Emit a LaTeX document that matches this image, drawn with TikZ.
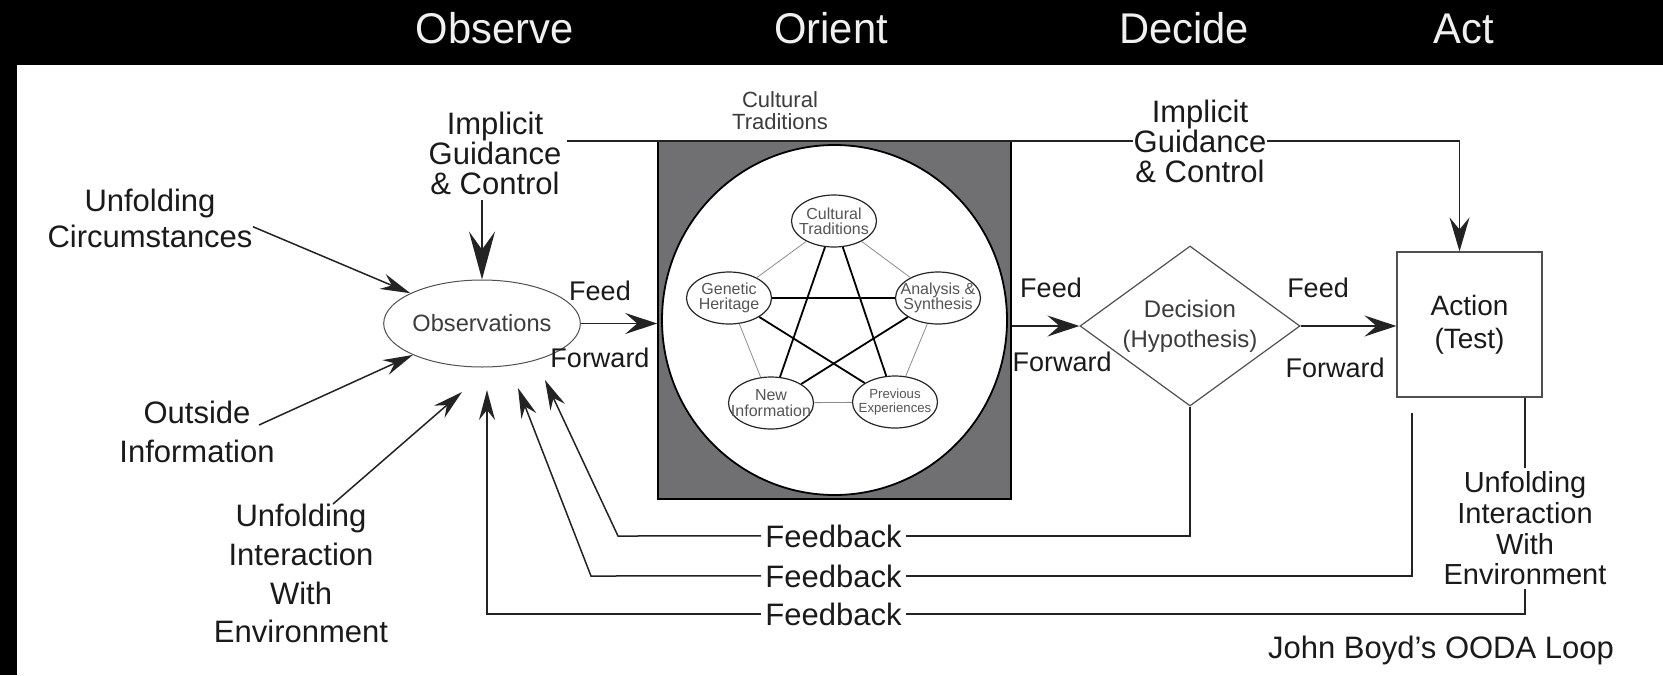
\documentclass[tikz,border=0pt]{standalone}
\usepackage{fontspec}
\setmainfont{Liberation Sans}
\newfontfamily\hdrfont[FakeStretch=0.97]{Liberation Sans}
\usetikzlibrary{shapes.geometric,arrows.meta,calc}
\definecolor{txt}{RGB}{26,26,26}
\definecolor{lin}{RGB}{35,35,35}
\definecolor{outl}{RGB}{80,80,80}
\definecolor{orientgray}{RGB}{112,112,114}
\definecolor{softtxt}{RGB}{60,60,60}
\definecolor{innertxt}{RGB}{85,85,85}
\begin{document}
\begin{tikzpicture}[x=0.5pt,y=-0.5pt,
  hdr/.style={anchor=base, text=white!94!black, inner sep=0pt, font=\hdrfont\fontsize{21.5}{21.5}\selectfont},
  lbl/.style={text=txt, align=center, inner sep=0pt, font=\fontsize{15.5}{#1}\selectfont},
  lbl/.default=15,
  ffl/.style={anchor=base, text=txt, inner sep=0pt, font=\fontsize{13.5}{13.5}\selectfont},
  fbl/.style={anchor=base, text=txt, inner xsep=2pt, inner ysep=0pt, font=\fontsize{15.5}{15.5}\selectfont},
  inn/.style={ellipse, draw=black!85, line width=0.6pt, fill=white, minimum width=42.5pt, minimum height=26pt, inner xsep=-5pt, inner ysep=0pt, align=center, text=innertxt, font=\fontsize{8}{7.6}\selectfont},
  ln/.style={draw=lin, line width=0.75pt},
  arr/.style={ln, -{Stealth[length=15pt,width=8pt,inset=5pt]}},
  ffarr/.style={ln, -{Stealth[length=16pt,width=10.5pt,inset=6pt]}},
  bigarrL/.style={draw=lin, line width=1pt, -{Stealth[length=24pt,width=13pt,inset=9pt]}},
  bigarrR/.style={ln, -{Stealth[length=17pt,width=10pt,inset=6pt]}},
  starln/.style={draw=black, line width=0.9pt},
  pentln/.style={draw=black!45, line width=0.4pt}
]
\useasboundingbox (0,0) rectangle (1663,675);
\fill[white] (0,0) rectangle (1663,675);
\fill[black] (0,0) rectangle (1663,65);
\fill[black] (0,0) rectangle (17,675);

% header
\node[hdr] (hO) at (494.5,43) {Observe};
\node[hdr] (hR) at (831,43) {Orient};
\node[hdr] (hD) at (1184,43) {Decide};
\node[hdr] (hA) at (1463.5,43) {Act};

% orient block
\node[draw=black, line width=0.8pt, fill=orientgray, minimum width=176.5pt, minimum height=179pt, inner sep=0pt] (orient) at (834.5,320) {};
\node[ellipse, draw=black, line width=0.9pt, fill=white, minimum width=172.5pt, minimum height=175pt, inner sep=0pt] (circ) at (834.5,320) {};
\node[text=softtxt, align=center, inner sep=0pt, font=\fontsize{11}{11}\selectfont] (ctl) at (780,111) {Cultural\\Traditions};

\node[inn] (ct) at (834,221) {Cultural\\Traditions};
\node[inn] (gh) at (729,298) {Genetic\\Heritage};
\node[inn] (as) at (938,298) {Analysis \&\\Synthesis};
\node[inn] (ni) at (771,403) {New\\Information};
\node[inn, font=\fontsize{6.6}{7.2}\selectfont] (pe) at (895,402) {Previous\\Experiences};

\draw[pentln] (ct) -- (gh);
\draw[pentln] (ct) -- (as);
\draw[pentln] (gh) -- (ni);
\draw[pentln] (as) -- (pe);
\draw[pentln] (ni) -- (pe);
\draw[starln] (ct) -- (ni);
\draw[starln] (ct) -- (pe);
\draw[starln] (gh) -- (as);
\draw[starln] (gh) -- (pe);
\draw[starln] (as) -- (ni);

% main shapes
\node[ellipse, draw=outl, line width=0.5pt, minimum width=81pt, minimum height=43.5pt, inner sep=0pt, text=softtxt, font=\fontsize{11.8}{12}\selectfont] (obs) at (482,323.5) {Observations};
\node[diamond, aspect=1.375, draw=outl, line width=0.6pt, inner sep=0pt, minimum width=110pt, minimum height=80pt, align=center, text=softtxt, font=\fontsize{12}{15}\selectfont] (dec) at (1190,326) {Decision\\(Hypothesis)};
\node[draw=outl, line width=0.6pt, minimum width=72.5pt, minimum height=72.5pt, inner sep=0pt, align=center, text=txt, font=\fontsize{14}{16.5}\selectfont] (act) at (1469.5,324.5) {Action\\(Test)};

% labels
\node[lbl=15] (implL) at (495,153.7) {Implicit\\Guidance\\\& Control};
\node[lbl=18] (unfC) at (150,218.7) {Unfolding\\Circumstances};
\node[lbl=19.5] (outI) at (197,432.2) {Outside\\Information};
\node[lbl=19.3] (unfL) at (301,573.7) {Unfolding\\Interaction\\With\\Environment};
\node[lbl=15] (implR) at (1200,141.7) {Implicit\\Guidance\\\& Control};
\node[text=txt, align=center, inner xsep=0pt, inner ysep=2pt, font=\fontsize{14.5}{15.3}\selectfont] (unfR) at (1525,528.5) {Unfolding\\Interaction\\With\\Environment};

\node[ffl] (f1a) at (600,300) {Feed};
\node[ffl] (f1b) at (600,367) {Forward};
\node[ffl] (f2a) at (1051,297) {Feed};
\node[ffl] (f2b) at (1062,371) {Forward};
\node[ffl] (f3a) at (1318,297) {Feed};
\node[ffl] (f3b) at (1335,377) {Forward};

\node[fbl] (fb1) at (833.5,547) {Feedback};
\node[fbl] (fb2) at (833.5,587) {Feedback};
\node[fbl] (fb3) at (833.5,625) {Feedback};

\node[anchor=base, text=txt, inner sep=0pt, font=\fontsize{15.5}{15.5}\selectfont] (title) at (1441,658) {John Boyd's OODA Loop};

% coordinates
\coordinate (gcL) at (567,141);
\coordinate (outS) at (259,425);
\coordinate (tipA) at (462,392);
\coordinate (tipF3) at (487,390);
\coordinate (tipF2) at (518,388);
\coordinate (tipF1) at (545,380);
\coordinate (c2) at (591,576);
\coordinate (c1) at (618,536);
\coordinate (m2) at (1412,413);

% input arrows
\draw[bigarrL, shorten <=2.5pt] (implL.south -| obs.north) -- (obs.north);
\draw[arr] ([yshift=-4pt]unfC.east) -- (obs);
\draw[arr] (outS) -- (obs);
\draw[arr] ([xshift=16pt]unfL.north) -- (tipA);

% feed forward
\draw[ffarr] (obs.east) -- (orient.west |- obs.east);
\draw[ffarr] (orient.east |- dec.west) -- (dec.west);
\draw[ffarr] (dec.east) -- (act.west |- dec.east);

% implicit guidance to action
\draw[ln] (gcL) -- (implR.west |- gcL);
\draw[bigarrR] (implR.east |- gcL) -| ([xshift=-5pt]act.north);

% feedback loops
\draw[ln] (dec.south) |- (fb1.east);
\draw[arr] (fb1.west) -- (c1) -- (tipF1);
\draw[ln] (m2) |- (fb2.east);
\draw[arr] (fb2.west) -- (c2) -- (tipF2);
\draw[ln] (act.south -| unfR.north) -- (unfR.north);
\draw[ln] (unfR.south) |- (fb3.east);
\draw[arr] (fb3.west) -| (tipF3);
\end{tikzpicture}
\end{document}
